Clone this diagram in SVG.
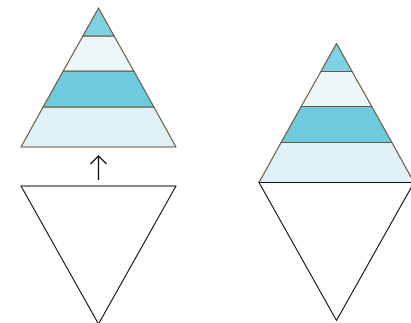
<svg xmlns="http://www.w3.org/2000/svg" width="411" height="323" viewBox="0 0 411 323">
<defs>
<style>
.b{stroke:#6b5a40;stroke-width:1.2;stroke-linejoin:round}
.c1{fill:#80d2e2}.c2{fill:#eef7f8}.c3{fill:#6ecbde}.c4{fill:#dff1f4}
.tri{fill:#fff;stroke:#111;stroke-width:1.1;stroke-linejoin:round}
.conn{fill:none;stroke:#111;stroke-width:1.3}
</style>
<g id="pyr">
<polygon class="b c4" points="43.1,107 153.9,107 176,147 21,147"/>
<polygon class="b c3" points="63.2,71 133.8,71 153.9,107 43.1,107"/>
<polygon class="b c2" points="82.9,36 114.1,36 133.8,71 63.2,71"/>
<polygon class="b c1" points="98.5,8 114.1,36 82.9,36"/>
</g>
</defs>
<g id="pyramid-left"><use href="#pyr"/></g>
<g id="triangle-left"><polygon class="tri" points="21,186 176,186 98.5,324"/></g>
<g id="pyramid-right"><use href="#pyr" transform="translate(238,35.5)"/></g>
<g id="triangle-right"><polygon class="tri" points="259,182.5 414,182.5 336.5,320.5"/></g>
<g id="connectors">
<path class="conn" d="M98.5,180 V156 M90.5,164 L98.5,156 L106.5,164"/>
</g>
</svg>
